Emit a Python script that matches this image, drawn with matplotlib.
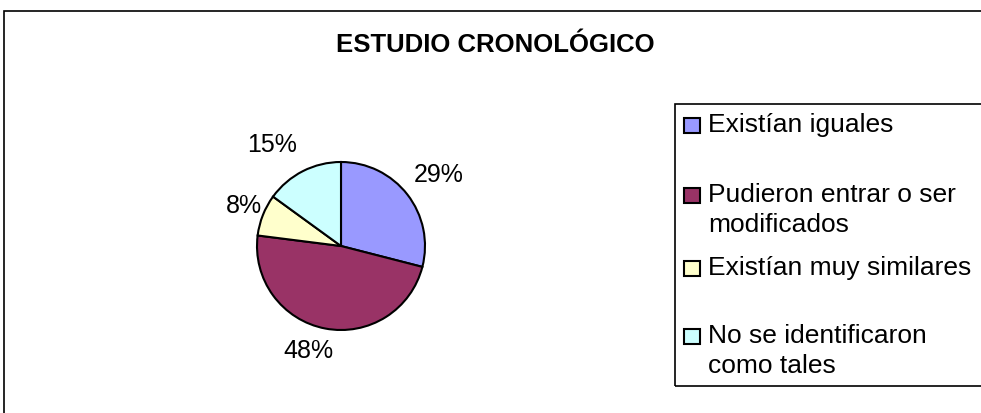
import matplotlib
matplotlib.use('Agg')
import matplotlib.pyplot as plt
from matplotlib.patches import Rectangle
import numpy as np

plt.rcParams['font.family'] = ['Liberation Sans', 'DejaVu Sans']

# data
title = "ESTUDIO CRONOLÓGICO"
categories = ["Existían iguales", "Pudieron entrar o ser\nmodificados",
              "Existían muy similares", "No se identificaron\ncomo tales"]
percents = [29, 48, 8, 15]
colors = ["#9999FF", "#993366", "#FFFFCC", "#CCFFFF"]

W, H = 981, 413
fig = plt.figure(figsize=(W / 100, H / 100), dpi=100)
fig.patch.set_facecolor('white')

# outer chart border (cut off at right/bottom like the original)
fig.patches.append(Rectangle((4 / W, -0.1), 1.2, (H - 11) / H + 0.1,
                             transform=fig.transFigure, fill=False,
                             edgecolor='black', linewidth=1.2))

fig.text(495 / W, 1 - 52 / H, title, ha='center', va='baseline',
         fontsize=18.5, fontweight='bold')

# pie
cx, cy, r = 341, 246, 84
ax = fig.add_axes([(cx - r) / W, (H - cy - r) / H, 2 * r / W, 2 * r / H])
wedges, texts = ax.pie(percents, colors=colors, startangle=90, counterclock=False,
                       labels=[f"{p}%" for p in percents],
                       wedgeprops=dict(edgecolor='black', linewidth=1.5),
                       textprops=dict(fontsize=18))
# label anchors (pie units), placed like Excel's outside labels
label_xy = [(1.167, 0.845), (-0.39, -1.255), (-1.155, 0.476), (-0.82, 1.20)]
for t, (lx, ly) in zip(texts, label_xy):
    t.set_position((lx, ly))
    t.set_ha('center')
    t.set_va('center')
ax.set_xlim(-1, 1)
ax.set_ylim(-1, 1)
ax.set_aspect('equal')
ax.axis('off')

# legend box
fig.patches.append(Rectangle((675 / W, 1 - 386 / H), 0.5, (386 - 104) / H,
                             transform=fig.transFigure, fill=False,
                             edgecolor='black', linewidth=1.2))
first_baselines = [132, 202, 275, 343]
line_step = 30
for lab, col, yb in zip(categories, colors, first_baselines):
    fig.patches.append(Rectangle((684 / W, 1 - (yb + 1) / H), 16 / W, 15 / H,
                                 transform=fig.transFigure, facecolor=col,
                                 edgecolor='black', linewidth=1.5))
    for i, line in enumerate(lab.split("\n")):
        fig.text(708 / W, 1 - (yb + i * line_step) / H, line, ha='left',
                 va='baseline', fontsize=19)

fig.savefig('out.png', dpi=100)
